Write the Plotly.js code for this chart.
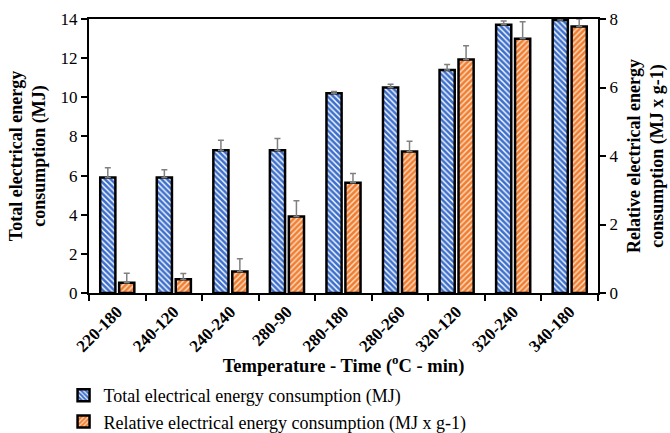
<!DOCTYPE html>
<html>
<head>
<meta charset="utf-8">
<script src="https://cdn.plot.ly/plotly-3.0.1.min.js"></script>
<style>html,body{margin:0;padding:0;background:#fff;}#chart{width:670px;height:433px;}</style>
</head>
<body>
<div id="chart"></div>
<script>
const categories = ["220-180","240-120","240-240","280-90","280-180","280-260","320-120","320-240","340-180"];
const totalEnergy = [5.9, 5.9, 7.3, 7.3, 10.2, 10.5, 11.4, 13.7, 13.95];
const totalErr = [0.5, 0.4, 0.5, 0.6, 0.1, 0.17, 0.28, 0.2, 0.1];
const relativeEnergy = [0.3, 0.4, 0.63, 2.23, 3.22, 4.13, 6.82, 7.42, 7.78];
const relativeErr = [0.28, 0.17, 0.37, 0.46, 0.27, 0.3, 0.4, 0.5, 0.22];

const serif = "Liberation Serif, Times New Roman, serif";

const traces = [
  {
    type: "bar", name: "Total electrical energy consumption (MJ)",
    x: categories, y: totalEnergy, yaxis: "y", offsetgroup: "1",
    marker: {color: "#3d6fcc", line: {color: "#000", width: 2.5},
      pattern: {shape: "\\", fgcolor: "#ffffff", bgcolor: "#3d6fcc", size: 4, solidity: 0.35}},
    error_y: {type: "data", array: totalErr, symmetric: false, arrayminus: totalErr.map(() => 0),
      color: "#808080", thickness: 1.5, width: 3}
  },
  {
    type: "bar", name: "Relative electrical energy consumption (MJ x g-1)",
    x: categories, y: relativeEnergy, yaxis: "y2", offsetgroup: "2",
    marker: {color: "#f07e32", line: {color: "#000", width: 2.5},
      pattern: {shape: "/", fgcolor: "#ffe0c8", bgcolor: "#f07e32", size: 4, solidity: 0.35}},
    error_y: {type: "data", array: relativeErr, symmetric: false, arrayminus: relativeErr.map(() => 0),
      color: "#808080", thickness: 1.5, width: 3}
  }
];

const layout = {
  width: 670, height: 433,
  margin: {l: 89, r: 72, t: 19, b: 140},
  paper_bgcolor: "#fff", plot_bgcolor: "#fff",
  barmode: "group", bargap: 0.33, bargroupgap: 0.2,
  font: {family: serif, color: "#000", size: 17},
  showlegend: true,
  legend: {x: -0.05, xanchor: "left", yref: "container", y: 1 - 377 / 433, yanchor: "top", orientation: "v",
    font: {family: serif, size: 18, color: "#000"}, tracegroupgap: 0, itemwidth: 30},
  xaxis: {
    type: "category", showline: true, linecolor: "#000", linewidth: 2, mirror: true,
    ticks: "outside", tickson: "boundaries", ticklen: 6, tickwidth: 2, tickcolor: "#000",
    tickangle: -45, tickfont: {family: serif, size: 17, color: "#000", weight: "bold"},
    title: {text: "<b>Temperature - Time (<sup>o</sup>C - min)</b>", font: {family: serif, size: 18.5}, standoff: 6},
    showgrid: false, zeroline: false
  },
  yaxis: {
    range: [0, 14], dtick: 2, showline: true, linecolor: "#000", linewidth: 2,
    ticks: "outside", ticklen: 6, tickwidth: 2, tickcolor: "#000",
    tickfont: {family: serif, size: 17, color: "#000"},
    title: {text: "<b>Total electrical energy<br>consumption (MJ)</b>", font: {family: serif, size: 18}, standoff: 10},
    showgrid: false, zeroline: false
  },
  yaxis2: {
    range: [0, 8], dtick: 2, overlaying: "y", side: "right", showline: true, linecolor: "#000", linewidth: 2,
    ticks: "outside", ticklen: 6, tickwidth: 2, tickcolor: "#000",
    tickfont: {family: serif, size: 17, color: "#000"},
    title: {text: "<b>Relative electrical energy<br>consumption (MJ x g-1)</b>", font: {family: serif, size: 18}, standoff: 10},
    showgrid: false, zeroline: false
  }
};

Plotly.newPlot("chart", traces, layout, {displayModeBar: false, staticPlot: true});
</script>
</body>
</html>
